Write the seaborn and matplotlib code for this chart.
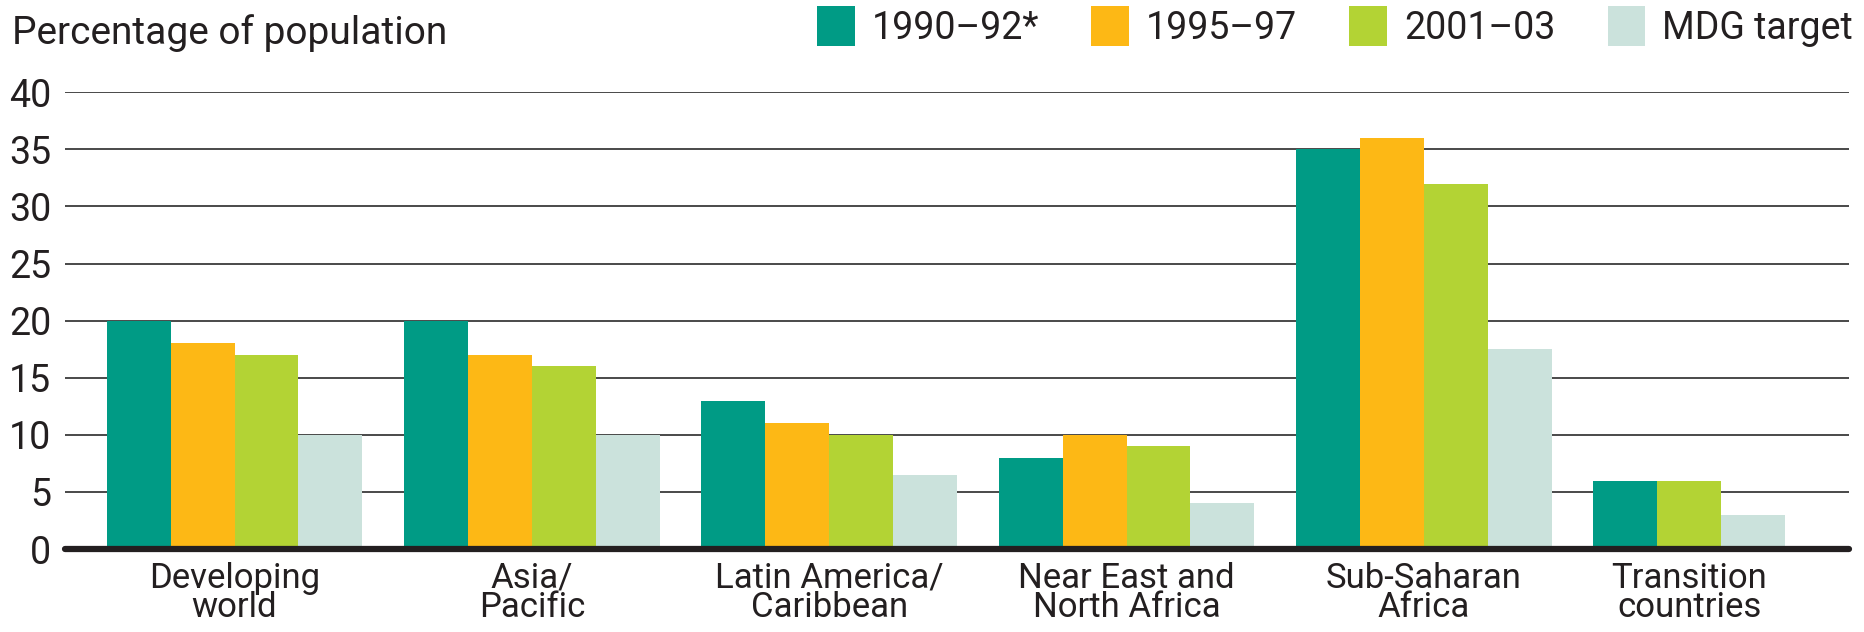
import numpy as np
import pandas as pd
import matplotlib.pyplot as plt
import seaborn as sns
from matplotlib.patches import Patch

# Chart data
regions = ["Developing\nworld", "Asia/\nPacific", "Latin America/\nCaribbean",
           "Near East and\nNorth Africa", "Sub-Saharan\nAfrica", "Transition\ncountries"]
periods = ["1990\u201392*", "1995\u201397", "2001\u201303", "MDG target"]
val_1990_92 = [20, 20, 13, 8, 35, 6]
val_1995_97 = [18, 17, 11, 10, 36, None]
val_2001_03 = [17, 16, 10, 9, 32, 6]
val_mdg = [10, 10, 6.5, 4, 17.5, 3]
yticks = [0, 5, 10, 15, 20, 25, 30, 35, 40]

colors = {"1990\u201392*": "#009b85", "1995\u201397": "#fdb815",
          "2001\u201303": "#b3d334", "MDG target": "#cbe2dc"}
ink = "#231f20"

sns.set_theme(style="white")
plt.rcParams['font.family'] = ['Roboto', 'DejaVu Sans']

# Bars sit side by side inside each group; missing values close the gap
bar_w = 0.215
series = [val_1990_92, val_1995_97, val_2001_03, val_mdg]
rows = []
for i, region in enumerate(regions):
    slot = 0
    for period, vals in zip(periods, series):
        v = vals[i]
        if v is None:
            continue
        rows.append({"region": region, "period": period, "value": v,
                     "pos": i + (slot - 1.5) * bar_w})
        slot += 1
df = pd.DataFrame(rows)

fig = plt.figure(figsize=(18.64, 6.32), dpi=100)
ax = fig.add_axes([0.0349, 0.1313, 0.9571, 0.7227])

sns.barplot(data=df, x="pos", y="value", hue="period", palette=colors,
            native_scale=True, dodge=False, width=1, errorbar=None,
            saturation=1, linewidth=0, legend=False, ax=ax)

ax.set_ylim(0, 40)
ax.set_xlim(-1 + 2 * bar_w, 5 + 2 * bar_w)
ax.set_yticks(yticks)
ax.set_yticklabels([str(t) for t in yticks], fontsize=27, color=ink)
ax.tick_params(axis="y", length=0, pad=10)

centers = df.groupby("region", sort=False)["pos"].mean()
ax.set_xticks(centers.values)
ax.set_xticklabels(centers.index, fontsize=25, color=ink, linespacing=0.88)
ax.tick_params(axis="x", length=0, pad=9)
ax.set_xlabel("")
ax.set_ylabel("")

for s in ax.spines.values():
    s.set_visible(False)
ax.set_axisbelow(True)
ax.yaxis.grid(True, color="#3a3a3a", linewidth=1.3)
ax.xaxis.grid(False)
ax.axhline(0, color=ink, linewidth=4.5, zorder=5, clip_on=False)

fig.text(0.0065, 0.93, "Percentage of population", fontsize=28, color=ink,
         ha="left", va="baseline")

handles = [Patch(facecolor=colors[p], edgecolor="none", label=p) for p in periods]
fig.legend(handles=handles, loc="upper right", bbox_to_anchor=(0.994, 0.99),
           ncol=4, frameon=False, fontsize=27, handlelength=1.0,
           handleheight=1.25, handletextpad=0.45, columnspacing=1.4,
           borderpad=0, borderaxespad=0, labelcolor=ink)

plt.savefig("out.png", dpi=100)
